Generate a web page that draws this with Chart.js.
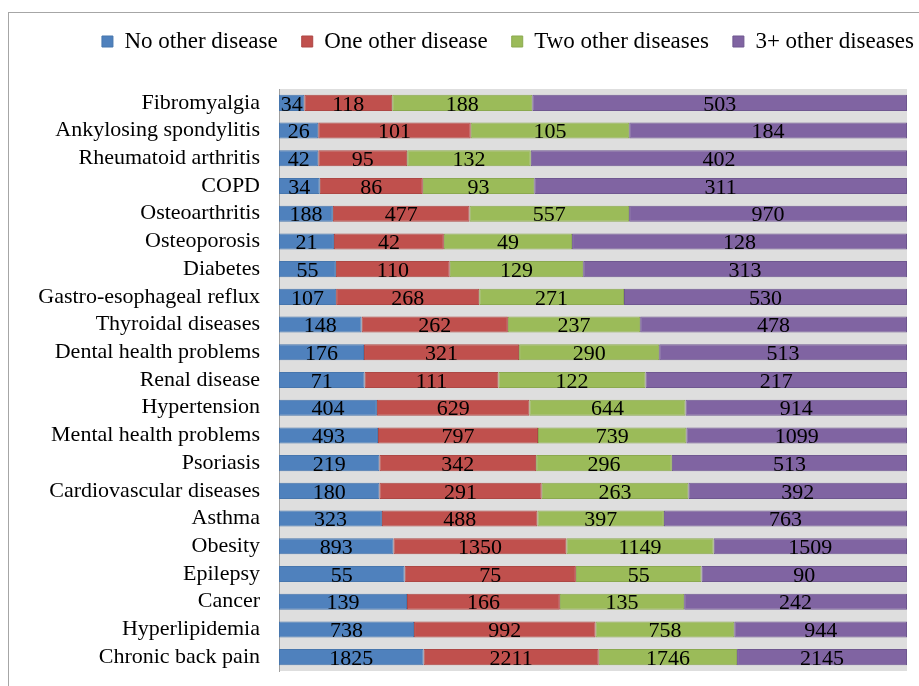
<!DOCTYPE html>
<html>
<head>
<meta charset="utf-8">
<script src="https://cdn.jsdelivr.net/npm/chart.js@4.4.1/dist/chart.umd.min.js"></script>
<style>
  body { margin: 0; background: #fff; }
  #wrap { position: relative; width: 919px; height: 686px; }
  #frame { position: absolute; left: 8px; top: 12px; right: -5px; bottom: -5px;
           border-left: 1px solid #a6a6a6; border-top: 1px solid #a6a6a6; }
  canvas { position: absolute; left: 0; top: 0; }
</style>
</head>
<body>
<div id="wrap">
  <div id="frame"></div>
  <canvas id="myChart" width="919" height="686"></canvas>
</div>
<script>
// categories, top to bottom as in the figure
const categories = [
  'Fibromyalgia', 'Ankylosing spondylitis', 'Rheumatoid arthritis', 'COPD',
  'Osteoarthritis', 'Osteoporosis', 'Diabetes', 'Gastro-esophageal reflux',
  'Thyroidal diseases', 'Dental health problems', 'Renal disease', 'Hypertension',
  'Mental health problems', 'Psoriasis', 'Cardiovascular diseases', 'Asthma',
  'Obesity', 'Epilepsy', 'Cancer', 'Hyperlipidemia', 'Chronic back pain'
];

// counts per number of other diseases
const noOther    = [34, 26, 42, 34, 188, 21, 55, 107, 148, 176, 71, 404, 493, 219, 180, 323, 893, 55, 139, 738, 1825];
const oneOther   = [118, 101, 95, 86, 477, 42, 110, 268, 262, 321, 111, 629, 797, 342, 291, 488, 1350, 75, 166, 992, 2211];
const twoOther   = [188, 105, 132, 93, 557, 49, 129, 271, 237, 290, 122, 644, 739, 296, 263, 397, 1149, 55, 135, 758, 1746];
const threeOther = [503, 184, 402, 311, 970, 128, 313, 530, 478, 513, 217, 914, 1099, 513, 392, 763, 1509, 90, 242, 944, 2145];

const seriesNames = ['No other disease', 'One other disease', 'Two other diseases', '3+ other diseases'];

const FONT = "'Liberation Serif', 'Times New Roman', serif";

// 100% stacked: each bar is its share of the row total
const series = [noOther, oneOther, twoOther, threeOther];
const totals = categories.map((c, i) => series.reduce((s, arr) => s + arr[i], 0));
const share = arr => arr.map((v, i) => v / totals[i] * 100);

const fills   = ['#4f81bd', '#c0504d', '#9bbb59', '#8064a2'];
const borders = ['#4776ad', '#ad4744', '#8ba94f', '#6f5790'];

const datasets = series.map((arr, k) => ({
  label: seriesNames[k],
  data: share(arr),
  raw: arr,
  backgroundColor: fills[k],
  borderColor: borders[k],
  borderWidth: 1,
  borderSkipped: false,
  barPercentage: 0.58,
  categoryPercentage: 1.0
}));

// grey plot background
const plotBg = {
  id: 'plotBg',
  beforeDraw(chart) {
    const {ctx, chartArea: a} = chart;
    ctx.save();
    ctx.fillStyle = '#dedede';
    ctx.fillRect(a.left, a.top, a.right - a.left, a.bottom - a.top);
    ctx.restore();
  }
};

// write the counts in the middle of each segment
const segLabels = {
  id: 'segLabels',
  afterDatasetsDraw(chart) {
    const ctx = chart.ctx;
    ctx.save();
    ctx.font = '22px ' + FONT;
    ctx.fillStyle = '#000';
    ctx.textAlign = 'center';
    ctx.textBaseline = 'middle';
    chart.data.datasets.forEach((ds, k) => {
      chart.getDatasetMeta(k).data.forEach((bar, i) => {
        const p = bar.getProps(['x', 'y', 'base'], true);
        ctx.fillText(String(ds.raw[i]), (p.x + p.base) / 2, p.y + 2);
      });
    });
    ctx.restore();
  }
};

// legend sits high, with a gap before the bars, and reaches to the right edge
const legendSpace = {
  id: 'legendSpace',
  beforeInit(chart) {
    const fit = chart.legend.fit;
    chart.legend.fit = function () {
      fit.bind(chart.legend)();
      this.height = 83;
    };
  },
  afterLayout(chart) {
    chart.legend.left += 31;
    chart.legend.right += 31;
  }
};

const ctx = document.getElementById('myChart').getContext('2d');
const myChart = new Chart(ctx, {
  type: 'bar',
  data: { labels: categories, datasets: datasets },
  plugins: [plotBg, segLabels, legendSpace],
  options: {
    indexAxis: 'y',
    responsive: false,
    animation: false,
    layout: { padding: { top: 6, right: 12, bottom: 15, left: 0 } },
    plugins: {
      legend: {
        position: 'top',
        align: 'end',
        labels: {
          boxWidth: 11,
          boxHeight: 11,
          padding: 24,
          color: '#000',
          font: { family: FONT, size: 23 }
        }
      },
      tooltip: { enabled: false }
    },
    scales: {
      x: {
        stacked: true,
        min: 0,
        max: 100,
        display: false
      },
      y: {
        stacked: true,
        grid: { display: false, drawTicks: false },
        border: { display: true, color: '#a0a0a0', width: 1 },
        ticks: {
          color: '#000',
          padding: 19,
          autoSkip: false,
          font: { family: FONT, size: 22 }
        },
        afterFit(scale) {
          scale.width = 279;
          scale.paddingTop = 0;
          scale.paddingBottom = 0;
        }
      }
    }
  }
});
</script>
</body>
</html>
